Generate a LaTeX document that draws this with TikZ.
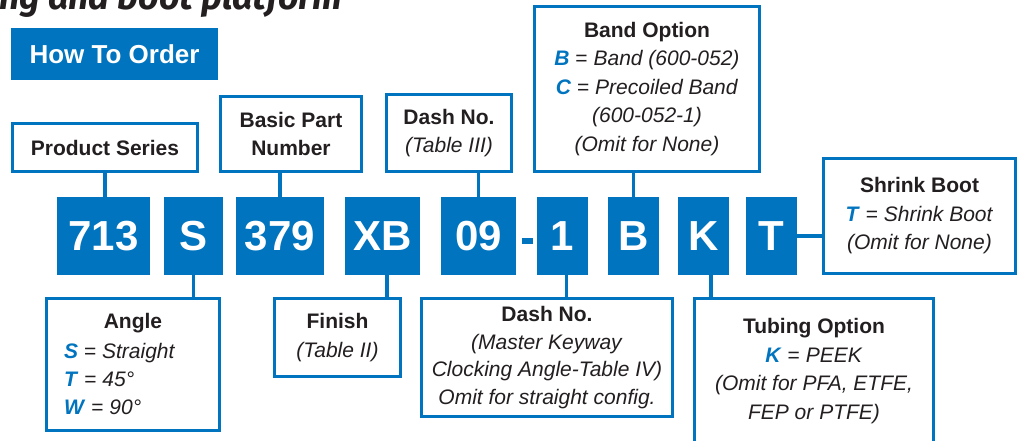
\documentclass[tikz,border=0pt]{standalone}
\usepackage{fontspec}
\setmainfont{Liberation Sans}
\newfontfamily\titlefont{Fira Sans}
\definecolor{brand}{RGB}{0,116,190}
\definecolor{ink}{RGB}{35,31,32}
\newcommand{\opt}[1]{\textcolor{brand}{\textbf{\textit{#1}}}}
\begin{document}
\begin{tikzpicture}[x=1pt,y=-1pt,
  codebox/.style={fill=brand, draw=none, text=white, inner sep=0pt,
    minimum height=78pt, font=\fontsize{42}{42}\selectfont\bfseries},
  labelbox/.style={draw=brand, fill=white, line width=3pt, inner sep=0pt,
    align=center, text=ink, font=\fontsize{21}{28.5}\selectfont},
  plain/.style={inner sep=0pt, text=ink, font=\fontsize{21}{27.7}\selectfont},
  conn/.style={draw=brand, line width=3.5pt}]
\useasboundingbox (0,0) rectangle (1018,440);
\clip (0,0) rectangle (1018,440);

% title (cut off at top)
\node[anchor=base west, inner sep=0pt, text=ink, font=\titlefont\bfseries\itshape\fontsize{36}{36}\selectfont] (title) at (-1,9) {\resizebox{343pt}{!}{ng and boot platform}};

% How To Order
\node[fill=brand, text=white, inner sep=0pt, minimum width=207pt, minimum height=52pt,
  font=\fontsize{26}{26}\selectfont\bfseries] (hto) at (114.5,54) {How To Order};

% code boxes
\node[codebox, minimum width=93pt] (c713) at (103.5,236) {713};
\node[codebox, minimum width=59pt] (cS) at (193.5,236) {S};
\node[codebox, minimum width=88pt] (c379) at (280,236) {379};
\node[codebox, minimum width=75pt] (cXB) at (382.5,236) {XB};
\node[codebox, minimum width=75pt] (c09) at (478.5,236) {09};
\node[fill=brand, inner sep=0pt, minimum width=11pt, minimum height=6pt] (hyph) at (527.5,241) {};
\node[codebox, minimum width=51pt] (c1) at (562.5,236) {1};
\node[codebox, minimum width=51pt] (cB) at (633.5,236) {B};
\node[codebox, minimum width=51pt] (cK) at (703.5,236) {K};
\node[codebox, minimum width=51pt] (cT) at (771.5,236) {T};

% upper label boxes
\node[labelbox, minimum width=185pt, minimum height=48pt] (ps) at (105,147.5) {\textbf{Product Series}};
\node[labelbox, minimum width=141pt, minimum height=75pt] (bpn) at (291,134) {\textbf{Basic Part}\\\textbf{Number}};
\node[labelbox, minimum width=125pt, minimum height=77pt] (dash1) at (449,133) {\textbf{Dash No.}\\\textit{(Table III)}};
\node[labelbox, minimum width=225pt, minimum height=165pt] (band) at (647,89)
  {\textbf{Band Option}\\\opt{B} = \textit{Band (600-052)}\\\opt{C} = \textit{Precoiled Band}\\\textit{(600-052-1)}\\\textit{(Omit for None)}};
\node[labelbox, minimum width=192pt, minimum height=115pt] (shrink) at (919.5,216)
  {\textbf{Shrink Boot}\\\opt{T} = \textit{Shrink Boot}\\\textit{(Omit for None)}};

% lower label boxes
\node[labelbox, minimum width=173pt, minimum height=132pt] (angle) at (133,364.5) {};
\node[plain, font=\fontsize{21}{21}\selectfont\bfseries] (angleT) at (133,323) {Angle};
\node[plain, anchor=west, align=left] (angleB) at (64,379)
  {\opt{S} = \textit{Straight}\\\opt{T} = \textit{45°}\\\opt{W} = \textit{90°}};
\node[labelbox, minimum width=126pt, minimum height=78pt] (finish) at (337.5,337.5) {\textbf{Finish}\\\textit{(Table II)}};
\node[labelbox, minimum width=251pt, minimum height=118pt, font=\fontsize{21}{27.7}\selectfont] (dash2) at (547,357.5)
  {\textbf{Dash No.}\\\textit{(Master Keyway}\\\textit{Clocking Angle-Table IV)}\\\textit{Omit for straight config.}};
\node[labelbox, minimum width=239pt, minimum height=145pt] (tubing) at (814,371)
  {\textbf{Tubing Option}\\\opt{K} = \textit{PEEK}\\\textit{(Omit for PFA, ETFE,}\\\textit{FEP or PTFE)}};

% connectors
\draw[conn] (ps.south) -- (ps.south |- c713.north);
\draw[conn] (c379.north) -- (c379.north |- bpn.south);
\draw[conn] (c09.north) -- (c09.north |- dash1.south);
\draw[conn] (cB.north) -- (cB.north |- band.south);
\draw[conn] (cT.east) -- (cT.east -| shrink.west);
\draw[conn] (cS.south) -- (cS.south |- angle.north);
\draw[conn] ([xshift=4.5pt]cXB.south) -- ([xshift=4.5pt]cXB.south |- finish.north);
\draw[conn] ([xshift=4pt]c1.south) -- ([xshift=4pt]c1.south |- dash2.north);
\draw[conn] ([xshift=7.5pt]cK.south) -- ([xshift=7.5pt]cK.south |- tubing.north);
\end{tikzpicture}
\end{document}
